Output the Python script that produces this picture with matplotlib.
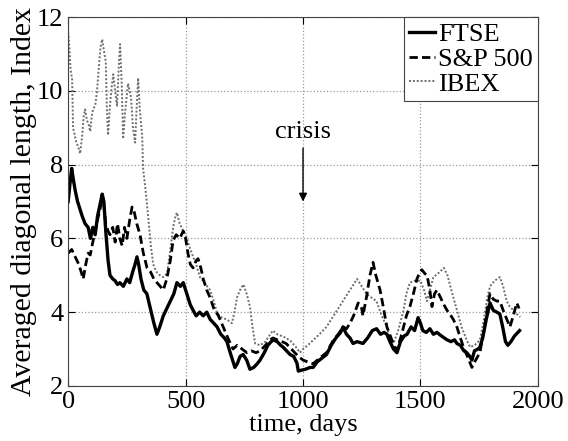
import matplotlib
matplotlib.use("Agg")
import matplotlib.pyplot as plt

# ---- data ----
ftse_days = [0, 8, 15, 22, 30, 40, 50, 60, 72, 85, 95, 105, 115, 125, 135, 145, 152, 160, 170, 178,
             190, 200, 210, 220, 235, 250, 262, 275, 285, 293, 300, 310, 322, 335, 350, 365, 378, 390,
             405, 420, 435, 450, 463, 478, 490, 500, 510, 520, 532, 545, 560, 575, 590, 605, 620, 634,
             650, 665, 676, 690, 700, 710, 720, 732, 745, 760, 774, 790, 805, 817, 835, 850, 872, 890,
             905, 915, 930, 945, 960, 974, 980, 990, 1010, 1030, 1043, 1060, 1080, 1100, 1120, 1140,
             1160, 1170, 1185, 1200, 1213, 1230, 1255, 1275, 1295, 1313, 1330, 1345, 1357, 1370, 1385,
             1400, 1415, 1430, 1443, 1460, 1475, 1490, 1500, 1510, 1525, 1540, 1555, 1570, 1590, 1613,
             1630, 1645, 1655, 1670, 1685, 1697, 1710, 1719, 1730, 1745, 1753, 1765, 1780, 1796, 1810,
             1825, 1838, 1850, 1862, 1872, 1885, 1900, 1915, 1922]
ftse_vals = [7.0, 7.5, 7.9, 7.6, 7.3, 7.0, 6.8, 6.6, 6.4, 6.3, 6.0, 6.3, 6.1, 6.6, 6.9, 7.2, 7.0, 6.2, 5.4, 5.0,
             4.9, 4.85, 4.75, 4.8, 4.7, 4.9, 4.8, 5.1, 5.3, 5.5, 5.3, 4.9, 4.6, 4.5, 4.1, 3.7, 3.4, 3.6,
             3.9, 4.1, 4.3, 4.5, 4.8, 4.7, 4.8, 4.6, 4.4, 4.2, 4.05, 3.9, 4.0, 3.9, 4.0, 3.8, 3.7, 3.6,
             3.4, 3.3, 3.2, 2.9, 2.7, 2.5, 2.6, 2.8, 2.85, 2.7, 2.45, 2.5, 2.6, 2.7, 2.9, 3.1, 3.25, 3.2,
             3.1, 3.05, 2.95, 2.85, 2.8, 2.62, 2.4, 2.42, 2.45, 2.5, 2.5, 2.65, 2.75, 2.85, 3.1, 3.3,
             3.45, 3.6, 3.4, 3.3, 3.15, 3.2, 3.15, 3.3, 3.5, 3.55, 3.4, 3.45, 3.4, 3.2, 3.0,
             2.9, 3.2, 3.35, 3.4, 3.6, 3.5, 3.85, 3.7, 3.5, 3.45, 3.55, 3.4, 3.45, 3.35, 3.25,
             3.2, 3.25, 3.15, 3.1, 2.95, 2.9, 2.8, 2.7, 2.95, 3.0, 3.05, 3.3, 3.8, 4.25, 4.05,
             4.0, 3.95, 3.6, 3.2, 3.1, 3.2, 3.35, 3.45, 3.5]

sp_days = [0, 15, 30, 45, 55, 64, 75, 85, 94, 105, 115, 125, 136, 145, 152, 160, 170, 178, 190, 200,
           210, 220, 230, 240, 250, 262, 272, 282, 292, 306, 320, 336, 350, 365, 378, 392, 405, 420,
           435, 447, 460, 475, 490, 500, 510, 520, 532, 545, 553, 565, 575, 590, 604, 620, 640, 660,
           680, 702, 720, 740, 761, 780, 800, 817, 840, 860, 872, 890, 910, 928, 950, 965, 980, 1000,
           1020, 1043, 1070, 1100, 1130, 1150, 1170, 1185, 1200, 1215, 1235, 1250, 1255, 1270, 1285,
           1298, 1310, 1328, 1340, 1357, 1375, 1390, 1400, 1420, 1440, 1455, 1470, 1485, 1498, 1506,
           1518, 1528, 1540, 1549, 1560, 1570, 1585, 1600, 1613, 1625, 1640, 1655, 1670, 1683, 1700,
           1719, 1735, 1753, 1770, 1785, 1796, 1810, 1825, 1838, 1855, 1868, 1881, 1895, 1910, 1920]
sp_vals = [5.6, 5.7, 5.5, 5.3, 5.1, 4.9, 5.3, 5.6, 5.55, 5.9, 6.2, 6.5, 6.8, 7.2, 6.9, 6.4, 6.2, 6.1, 6.3, 5.9,
           6.4, 6.0, 5.8, 6.3, 6.0, 6.5, 6.85, 6.7, 6.4, 6.1, 5.6, 5.2, 5.1, 4.9, 4.8, 4.7, 4.6, 4.9,
           5.4, 5.95, 6.1, 6.0, 6.2, 6.0, 5.6, 5.3, 5.2, 5.4, 5.45, 5.2, 4.9, 4.6, 4.4, 4.1, 3.9, 3.6,
           3.3, 3.0, 3.1, 3.0, 2.9, 2.95, 2.9, 2.95, 3.1, 3.25, 3.3, 3.25, 3.2, 3.15, 3.0, 2.9, 2.8, 2.7,
           2.65, 2.6, 2.75, 2.9, 3.25, 3.4, 3.6, 3.55, 3.7, 3.9, 4.25, 4.1, 3.9, 4.4, 5.0,
           5.35, 5.0, 4.6, 4.2, 3.6, 3.3, 3.05, 2.97, 3.4, 3.9, 4.15, 4.5, 4.9, 5.1, 5.15,
           5.05, 5.0, 4.6, 4.15, 4.5, 4.6, 4.4, 4.2, 4.05, 3.95, 3.8, 3.6, 3.3, 3.05, 2.8,
           2.5, 2.7, 2.9, 3.5, 4.1, 4.5, 4.35, 4.3, 4.3, 4.0, 3.8, 3.6, 3.9, 4.25, 4.1]

ibex_days = [0, 5, 10, 17, 21, 28, 35, 42, 51, 60, 66, 72, 80, 87, 94, 100, 106, 115, 123, 130, 138,
             145, 152, 160, 165, 170, 178, 185, 192, 200, 208, 215, 221, 228, 234, 242, 250, 255, 262,
             268, 276, 285, 292, 298, 305, 315, 319, 328, 336, 345, 352, 362, 375, 391, 405, 421, 433,
             447, 455, 463, 475, 490, 500, 515, 532, 545, 561, 580, 604, 620, 634, 655, 676, 697, 708,
             719, 732, 746, 760, 774, 785, 796, 817, 840, 855, 872, 890, 910, 928, 950, 970, 987, 1000,
             1020, 1043, 1070, 1100, 1130, 1150, 1170, 1190, 1210, 1230, 1250, 1270, 1290, 1313, 1335,
             1357, 1370, 1385, 1405, 1428, 1440, 1455, 1475, 1500, 1515, 1528, 1540, 1555, 1575, 1600,
             1615, 1627, 1640, 1655, 1675, 1697, 1712, 1730, 1753, 1770, 1785, 1796, 1815, 1838, 1852,
             1867, 1880, 1896, 1910, 1925]
ibex_vals = [11.6, 11.2, 10.6, 10.3, 9.0, 8.8, 8.6, 8.5, 8.3, 8.8, 9.3, 9.5, 9.2, 9.1, 8.9, 9.3, 9.5, 9.6, 10.0, 10.6, 11.2,
             11.4, 11.1, 10.8, 9.5, 8.8, 9.6, 10.1, 10.45, 10.0, 9.6, 10.6, 11.27, 10.2, 8.7, 9.4, 9.9, 10.2, 10.0,
             9.8, 9.0, 8.6, 9.6, 10.35, 9.5, 8.8, 7.9, 7.4, 6.9, 6.3, 5.8, 5.3, 5.1, 5.0, 4.95, 5.05, 5.6,
             6.3, 6.55, 6.7, 6.4, 6.2, 6.1, 5.8, 5.5, 5.3, 4.95, 4.8, 4.6, 4.3, 3.97, 3.85, 3.8, 3.7, 4.0,
             4.4, 4.6, 4.75, 4.5, 4.15, 3.6, 3.15, 3.1, 3.2, 3.35, 3.5, 3.4, 3.35, 3.3, 3.2, 3.05, 2.9, 3.0,
             3.1, 3.24, 3.4, 3.6, 3.9, 4.1, 4.3, 4.5, 4.7, 4.9, 4.7, 4.5, 4.4, 4.3, 3.9,
             3.6, 3.3, 3.15, 3.5, 4.05, 4.5, 4.8, 4.85, 4.85, 4.6, 4.3, 4.6, 4.95, 5.05, 5.2,
             5.0, 4.7, 4.4, 4.05, 3.6, 3.24, 3.05, 3.1, 3.24, 3.8, 4.4, 4.7, 4.85, 4.95, 4.7,
             4.3, 4.15, 4.05, 3.95, 3.87]

series_names = ["FTSE", "S&P 500", "IBEX"]
x_ticks = [0, 500, 1000, 1500, 2000]
y_ticks = [2, 4, 6, 8, 10, 12]
crisis_day = 1000
crisis_text_y = 8.6
crisis_tip_y = 7.0

# ---- plotting ----
plt.rcParams['font.family'] = ['Liberation Serif', 'DejaVu Serif']

fig = plt.figure(figsize=(5.68, 4.41), dpi=100)
ax = fig.add_axes([0.12, 0.125, 0.827, 0.836])

l3, = ax.plot(ibex_days, ibex_vals, color='#6e6e6e', linestyle=(0, (1, 1)), lw=1.4)
l2, = ax.plot(sp_days, sp_vals, color='black', linestyle=(0, (3, 1.5)), lw=2.0)
l1, = ax.plot(ftse_days, ftse_vals, color='black', linestyle='-', lw=2.4)

ax.set_xlim(0, 2000)
ax.set_ylim(2, 12)
ax.set_xticks(x_ticks)
ax.set_yticks(y_ticks)
ax.tick_params(direction='in', top=True, right=True, labelsize=19, length=5, width=0.8)
ax.grid(True, linestyle=':', color='#9a9a9a', lw=0.9)
for s in ax.spines.values():
    s.set_linewidth(0.8)
    s.set_color('#444444')

ax.set_xlabel("time, days", fontsize=19, labelpad=1)
ax.set_ylabel("Averaged diagonal length, Index", fontsize=21.5, labelpad=0)

ax.annotate("crisis", xy=(crisis_day, crisis_tip_y), xytext=(crisis_day, crisis_text_y),
            ha='center', va='bottom', fontsize=19,
            arrowprops=dict(arrowstyle='-|>', color='black', lw=1.0, mutation_scale=12,
                            shrinkA=2, shrinkB=0))

leg = ax.legend([l1, l2, l3], series_names, loc='upper right', fontsize=19,
                handlelength=1.0, handletextpad=0.1, borderaxespad=0.0,
                borderpad=0.2, labelspacing=0.05, fancybox=False, framealpha=1,
                edgecolor='#444444')
leg.get_frame().set_linewidth(0.8)

fig.savefig("out.png", dpi=100)
